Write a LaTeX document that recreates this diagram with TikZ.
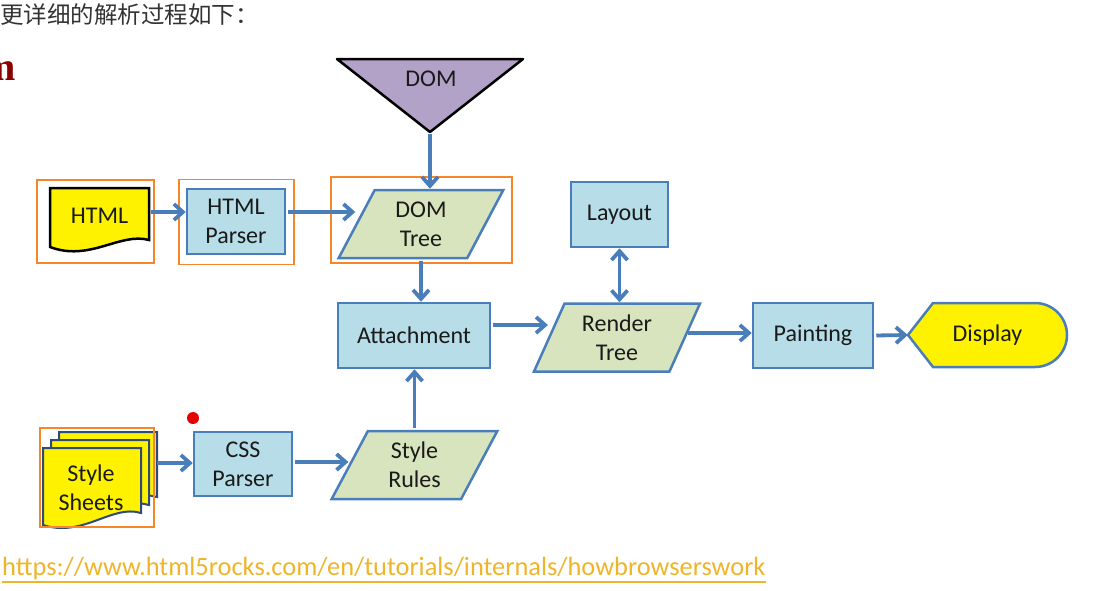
\documentclass[tikz,border=0pt]{standalone}
\usepackage{fontspec}
\setmainfont{Carlito}
\newfontfamily\cjk{Noto Sans CJK SC}
\newfontfamily\headfont{Liberation Serif}
\usetikzlibrary{arrows.meta,shapes.geometric}

\definecolor{flowblue}{HTML}{4A7EBB}
\definecolor{procfill}{HTML}{B7DEE8}
\definecolor{datafill}{HTML}{D7E4BD}
\definecolor{domfill}{HTML}{B3A2C7}
\definecolor{markorange}{HTML}{F5862A}
\definecolor{linkgold}{HTML}{F0B429}
\definecolor{docblue}{HTML}{2E4A7A}
\definecolor{headred}{HTML}{8B0000}
\definecolor{textgray}{HTML}{333333}
\definecolor{boxtext}{HTML}{1A1A1A}

\begin{document}
\begin{tikzpicture}[x=1pt, y=-1pt,
    >={Straight Barb[length=9pt,width=16pt]},
    every node/.style={font=\fontsize{24}{29}\selectfont, text=boxtext, align=center, inner sep=0pt},
    proc/.style={draw=flowblue, fill=procfill, line width=2.5pt, minimum height=65pt},
    data/.style={trapezium, trapezium left angle=66, trapezium right angle=114, trapezium stretches=true,
        draw=flowblue, fill=datafill, line width=2.5pt, minimum width=166pt, minimum height=68pt},
    hilite/.style={draw=markorange, line width=1.6pt},
    flow/.style={->, draw=flowblue, line width=3.8pt, shorten <=2pt}]
\clip (0,0) rectangle (1114,590);

\node[anchor=west, font=\cjk\fontsize{23.5}{28}\selectfont, text=textgray] (head) at (0,15) {更详细的解析过程如下：};
\node[anchor=base east, font=\headfont\bfseries\fontsize{40}{48}\selectfont, text=headred] (cut) at (16,80) {m};

%\draw (0,0) rectangle (1114,590);
\draw[fill=domfill, line width=2.5pt, line join=round] (337,59) -- (523,59) -- (430,132) -- cycle;
\node (dom) at (431,79) {DOM};
\coordinate (domtip) at (430,132);

\draw[fill=yellow, line width=2.5pt] (50,188) -- (149,188) -- (149,240) .. controls (120,232) and (90,262) .. (50,247) -- cycle;
\node[minimum width=99pt, minimum height=60pt] (html) at (99.5,216) {HTML};

\foreach \d in {16,8,0}
    \draw[fill=yellow, draw=docblue, line width=2pt, shift={(43+\d,448-\d)}] (0,0) -- (98,0) -- (98,65) .. controls (69,56) and (40,90) .. (0,77) -- cycle;
\node (sheets) at (91,488) {Style\\Sheets};

\node[proc, minimum width=98pt] (parser) at (236,221.5) {HTML\\Parser};
\node[data] (dt) at (421,224) {DOM\\Tree};
\node[proc, minimum width=152pt] (attach) at (414,335.5) {Attachment};
\node[proc, minimum width=97pt] (layout) at (619.5,214.5) {Layout};
\node[data] (render) at (617,337.5) {Render\\Tree};
\node[proc, minimum width=120pt] (paint) at (813,335.5) {Painting};
\node[proc, minimum width=98pt, minimum height=64pt] (css) at (243,464) {CSS\\Parser};
\node[data] (rules) at (414.5,465) {Style\\Rules};

\draw[fill=yellow, draw=flowblue, line width=2.5pt] (908,335) -- (933,303) -- (1035,303) arc (-90:90:32) -- (933,367) -- cycle;
\node[minimum width=159pt, minimum height=64pt] (display) at (987.5,335) {Display};

\node[hilite, minimum width=117pt, minimum height=83pt] (htmlbox) at (95.5,221.5) {};
\node[hilite, minimum width=115pt, minimum height=85pt] (parserbox) at (236.5,222) {};
\node[hilite, minimum width=181pt, minimum height=86pt] (dtbox) at (421.5,220) {};
\node[hilite, minimum width=114pt, minimum height=99pt] (sheetsbox) at (97,477.5) {};

\fill[red!90!black] (193,418) circle (6);

\draw[flow] (html.east |- 0,212) -- (parser.west |- 0,212);
\draw[flow] (parser.east |- 0,212) -- (dt.west |- 0,212);
\draw[flow] (domtip) -- (domtip |- dt.north);
\draw[flow] (dt.south) -- (dt.south |- attach.north);
\draw[flow] (attach.east |- 0,325) -- (render.west |- 0,325);
\draw[flow, <->, shorten <=0pt] (layout.south) -- (layout.south |- render.north);
\draw[flow] (render.east |- 0,333) -- (paint.west |- 0,333);
\draw[flow] (paint.east) -- (display.west);
\draw[flow] (sheetsbox.east |- 0,463) -- (css.west |- 0,463);
\draw[flow] (css.east |- 0,462) -- (rules.west |- 0,462);
\draw[flow] (rules.north) -- (rules.north |- attach.south);

\node[anchor=base west, font=\fontsize{26.4}{31}\selectfont, text=linkgold] (link) at (2,575) {https://www.html5rocks.com/en/tutorials/internals/howbrowserswork};
\draw[linkgold, line width=1.5pt] ([yshift=-7pt]link.base west) -- ([yshift=-7pt]link.base east);
\end{tikzpicture}
\end{document}
